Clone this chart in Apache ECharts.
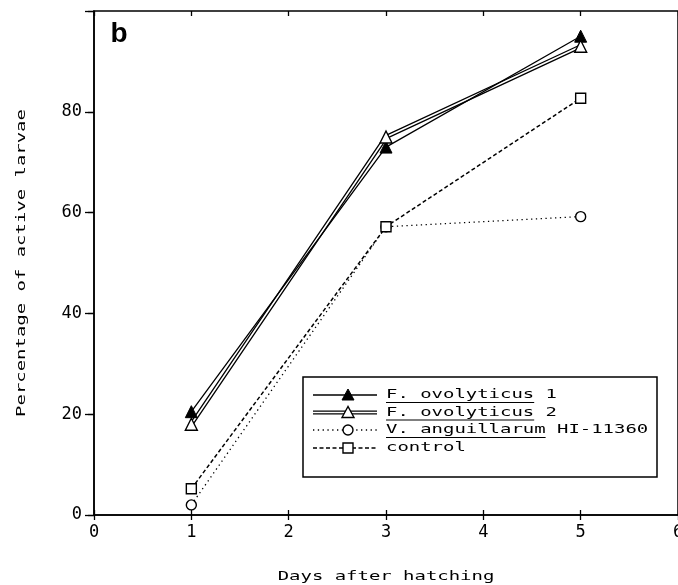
<!DOCTYPE html>
<html><head><meta charset="utf-8">
<script src="https://cdn.jsdelivr.net/npm/echarts@6/dist/echarts.min.js"></script>
<style>html,body{margin:0;padding:0;background:#fff}#c{width:678px;height:585px}</style>
</head><body><div id="c"></div>
<script>
// ---- data ----
const days = [1, 3, 5];
const fo1 = [20.5, 73, 95];     // F. ovolyticus 1
const fo2 = [18, 75, 93];       // F. ovolyticus 2
const vang = [2, 57.2, 59.2];   // V. anguillarum HI-11360
const ctrl = [5.2, 57.2, 82.7]; // control
const xTickValues = [0, 1, 2, 3, 4, 5, 6];
const yTickValues = [0, 20, 40, 60, 80];
const legendMain = ['F. ovolyticus', 'F. ovolyticus', 'V. anguillarum', 'control'];
const legendRest = [' 1', ' 2', ' HI-11360', ''];
const legendUnderline = [true, true, true, false];
const xTitle = 'Days after hatching';
const yTitle = 'Percentage of active larvae';
const panelLabel = 'b';

const pairs = a => days.map((d, i) => [d, a[i]]);
const MONO = '"DejaVu Sans Mono", "Liberation Mono", monospace';

const chart = echarts.init(document.getElementById('c'), null, {renderer: 'canvas'});

// legend drawn as graphic
const CW = 11.4, FS = 13, SX = CW / (FS * 0.602);
const lx0 = 313, lx1 = 377, lmx = 348, tx = 386;
const rowsY = [395, 412.5, 430, 448];
const g = [];
g.push({type: 'rect', shape: {x: 303, y: 377, width: 354, height: 100},
  style: {fill: '#fff', stroke: '#000', lineWidth: 1.5}, z: 100});
rowsY.forEach((y, i) => {
  if (i === 0) {
    g.push({type: 'line', shape: {x1: lx0, y1: y, x2: lx1, y2: y}, style: {stroke: '#000', lineWidth: 1.3}, z: 101});
    g.push({type: 'polygon', shape: {points: [[lmx, y - 6], [lmx - 6, y + 5], [lmx + 6, y + 5]]}, style: {fill: '#000', stroke: '#000', lineWidth: 1}, z: 102});
  } else if (i === 1) {
    g.push({type: 'line', shape: {x1: lx0, y1: y, x2: lx1, y2: y}, style: {stroke: '#000', lineWidth: 4.2}, z: 101});
    g.push({type: 'line', shape: {x1: lx0, y1: y, x2: lx1, y2: y}, style: {stroke: '#fff', lineWidth: 1.6}, z: 101});
    g.push({type: 'polygon', shape: {points: [[lmx, y - 6], [lmx - 6, y + 5], [lmx + 6, y + 5]]}, style: {fill: '#fff', stroke: '#000', lineWidth: 1.4}, z: 102});
  } else if (i === 2) {
    g.push({type: 'line', shape: {x1: lx0, y1: y, x2: lx1, y2: y}, style: {stroke: '#000', lineWidth: 1.3, lineDash: [1.3, 3.5]}, z: 101});
    g.push({type: 'circle', shape: {cx: lmx, cy: y, r: 5}, style: {fill: '#fff', stroke: '#000', lineWidth: 1.4}, z: 102});
  } else {
    g.push({type: 'line', shape: {x1: lx0, y1: y, x2: lx1, y2: y}, style: {stroke: '#000', lineWidth: 1.5, lineDash: [4, 2.5]}, z: 101});
    g.push({type: 'rect', shape: {x: lmx - 5, y: y - 5, width: 10, height: 10}, style: {fill: '#fff', stroke: '#000', lineWidth: 1.4}, z: 102});
  }
  g.push({type: 'text', x: tx, y: y, scaleX: SX, z: 102,
    style: {text: legendMain[i] + legendRest[i], x: 0, y: 0, font: FS + 'px ' + MONO, fill: '#000', textAlign: 'left', textVerticalAlign: 'middle'}});
  if (legendUnderline[i]) {
    g.push({type: 'line', shape: {x1: tx, y1: y + 7.5, x2: tx + legendMain[i].length * CW, y2: y + 7.5}, style: {stroke: '#000', lineWidth: 1.2}, z: 102});
  }
});
// axis titles
g.push({type: 'text', x: 386, y: 577, scaleX: SX, style: {text: xTitle, x: 0, y: 0, font: FS + 'px ' + MONO, fill: '#000', textAlign: 'center', textVerticalAlign: 'middle'}});
g.push({type: 'text', x: 22, y: 263, rotation: Math.PI / 2, scaleX: SX, style: {text: yTitle, x: 0, y: 0, font: FS + 'px ' + MONO, fill: '#000', textAlign: 'center', textVerticalAlign: 'middle'}});
g.push({type: 'text', x: 119, y: 34, style: {text: panelLabel, x: 0, y: 0, font: 'bold 28px "Liberation Sans", Arial, sans-serif', fill: '#000', textAlign: 'center', textVerticalAlign: 'middle'}});

const tickStyle = {color: '#000', width: 1.3};
const hiddenAxis = (pos, len) => ({type: 'value', position: pos, axisLine: {show: false},
  axisTick: {show: true, inside: true, length: len, lineStyle: tickStyle},
  axisLabel: {show: false}, splitLine: {show: false}});

chart.setOption({
  animation: false,
  backgroundColor: '#fff',
  grid: {left: 94, top: 11, width: 584, height: 504, show: true, borderColor: '#000', borderWidth: 1.5,
    containLabel: false, outerBoundsMode: 'none'},
  xAxis: [
    {type: 'value', min: 0, max: 6, interval: 1, position: 'bottom',
      axisLine: {show: true, lineStyle: {color: '#000', width: 1.5}}, splitLine: {show: false},
      axisTick: {show: true, inside: false, length: 5, lineStyle: tickStyle},
      axisLabel: {color: '#000', fontSize: 17, fontFamily: MONO, margin: 9,
        formatter: v => xTickValues.includes(v) ? String(v) : ''}},
    Object.assign(hiddenAxis('bottom', 5), {min: 0, max: 6, interval: 1}),
    Object.assign(hiddenAxis('top', 5), {min: 0, max: 6, interval: 1})
  ],
  yAxis: [
    {type: 'value', min: 0, max: 100, interval: 20, position: 'left',
      axisLine: {show: true, lineStyle: {color: '#000', width: 1.5}}, splitLine: {show: false},
      axisTick: {show: true, inside: false, length: 9, lineStyle: tickStyle},
      axisLabel: {color: '#000', fontSize: 17, fontFamily: MONO, margin: 12,
        formatter: v => yTickValues.includes(v) ? String(v) : ''}},
    Object.assign(hiddenAxis('right', 6), {min: 0, max: 100, interval: 20})
  ],
  graphic: g,
  series: [
    {name: 'fo2base', type: 'line', data: pairs(fo2), showSymbol: false, z: 2,
      lineStyle: {color: '#000', width: 4.2}, silent: true},
    {name: 'fo2inner', type: 'line', data: pairs(fo2), showSymbol: false, z: 3,
      lineStyle: {color: '#fff', width: 1.6}, silent: true},
    {name: 'F. ovolyticus 1', type: 'line', data: pairs(fo1), z: 4, symbol: 'triangle', symbolSize: 12,
      lineStyle: {color: '#000', width: 1.3}, itemStyle: {color: '#000', borderColor: '#000'}},
    {name: 'F. ovolyticus 2', type: 'line', data: pairs(fo2), z: 5, symbol: 'triangle', symbolSize: 12,
      lineStyle: {width: 0, opacity: 0}, itemStyle: {color: '#fff', borderColor: '#000', borderWidth: 1.4}},
    {name: 'V. anguillarum HI-11360', type: 'line', data: pairs(vang), z: 4, symbol: 'circle', symbolSize: 10,
      lineStyle: {color: '#000', width: 1.3, type: [1.3, 3.5]}, itemStyle: {color: '#fff', borderColor: '#000', borderWidth: 1.4}},
    {name: 'control', type: 'line', data: pairs(ctrl), z: 4, symbol: 'rect', symbolSize: 10,
      lineStyle: {color: '#000', width: 1.5, type: [4, 2.5]}, itemStyle: {color: '#fff', borderColor: '#000', borderWidth: 1.4}}
  ]
});
</script></body></html>
